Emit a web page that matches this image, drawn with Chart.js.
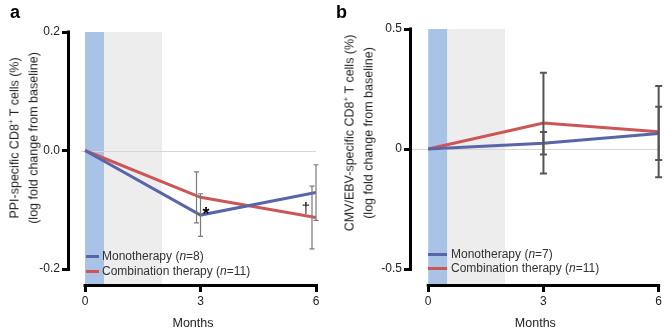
<!DOCTYPE html>
<html>
<head>
<meta charset="utf-8">
<script src="https://cdn.jsdelivr.net/npm/chart.js@4.4.0/dist/chart.umd.min.js"></script>
<style>
    body { margin: 0; background: #fff; }
    #wrap { position: relative; width: 664px; height: 328px; font-family: "Liberation Sans", Arial, sans-serif; color: #222; }
    canvas { position: absolute; top: 0; }
    .lbl { position: absolute; font-weight: bold; font-size: 18px; line-height: 18px; color: #000; }
    .ytitle { position: absolute; width: 260px; font-size: 12.5px; line-height: 18.5px; text-align: center; white-space: nowrap;
              transform: translate(-50%, -50%) rotate(-90deg); }
    .ytitle sup { font-size: 8px; line-height: 0; vertical-align: 5px; }
    .leg { position: absolute; font-size: 12px; line-height: 12px; white-space: nowrap; color: #333; }
    .sw { position: absolute; height: 3px; }
    .mark { position: absolute; line-height: 16px; color: #000; transform: translate(-50%, -50%); }
</style>
</head>
<body>
<div id="wrap">
    <canvas id="chartA" width="332" height="328" style="left:0"></canvas>
    <canvas id="chartB" width="330" height="328" style="left:334px"></canvas>

    <div class="lbl" style="left:10px; top:3px">a</div>
    <div class="lbl" style="left:336px; top:3px">b</div>

    <div class="ytitle" style="left:24px; top:138px">PPI-specific CD8<sup>+</sup> T cells (%)<br>(log fold change from baseline)</div>
    <div class="ytitle" style="left:359px; top:133px">CMV/EBV-specific CD8<sup>+</sup> T cells (%)<br>(log fold change from baseline)</div>

    <div class="sw" style="left:86px; top:255px; width:13px; background:#5866a8"></div>
    <div class="leg" style="left:102px; top:250px">Monotherapy (<i>n</i>=8)</div>
    <div class="sw" style="left:86px; top:270px; width:13px; background:#cc5656"></div>
    <div class="leg" style="left:102px; top:265px">Combination therapy (<i>n</i>=11)</div>

    <div class="sw" style="left:428px; top:253px; width:19px; background:#5866a8"></div>
    <div class="leg" style="left:451px; top:248px">Monotherapy (<i>n</i>=7)</div>
    <div class="sw" style="left:428px; top:267px; width:19px; background:#cc5656"></div>
    <div class="leg" style="left:451px; top:262px">Combination therapy (<i>n</i>=11)</div>

    <div class="mark" style="left:206px; top:214px; font-size:18px; font-weight:bold">*</div>
    <div class="mark" style="left:306px; top:208px; font-size:15px">†</div>
</div>

<script>
// Data
const months = [0, 3, 6];
const xTicks = [0, 3, 6];

// Panel a: PPI-specific CD8+ T cells
const ppiMono = [0, -0.109, -0.071];
const ppiMonoErr = [0, 0.036, 0.047];
const ppiCombo = [0, -0.079, -0.113];
const ppiComboErr = [0, 0.043, 0.053];
const ppiTicks = [-0.2, 0, 0.2];
const ppiTickLabels = ['-0.2', '0.0', '0.2'];

// Panel b: CMV/EBV-specific CD8+ T cells
const viralMono = [0, 0.024, 0.065];
const viralMonoErr = [0, 0.047, 0.111];
const viralCombo = [0, 0.108, 0.072];
const viralComboErr = [0, 0.21, 0.19];
const viralTicks = [-0.5, 0, 0.5];
const viralTickLabels = ['-0.5', '0', '0.5'];

// Shaded periods (months)
const bandBlue = [0, 0.5];
const bandGrey = [0.5, 2];

const BLUE = '#5866a8';
const RED = '#cc5656';

Chart.defaults.font.family = '"Liberation Sans", Arial, sans-serif';
Chart.defaults.color = '#222';

// Shading, zero line, error bars and Prism-style offset axes
const decor = {
    id: 'decor',
    beforeDatasetsDraw(chart, args, opts) {
        const { ctx, chartArea, scales: { x, y } } = chart;
        const top = y.getPixelForValue(opts.axisTop);
        ctx.save();
        ctx.fillStyle = '#a9c3e7';
        ctx.fillRect(x.getPixelForValue(bandBlue[0]), top,
            x.getPixelForValue(bandBlue[1]) - x.getPixelForValue(bandBlue[0]), chartArea.bottom - top);
        ctx.fillStyle = '#ededed';
        ctx.fillRect(x.getPixelForValue(bandGrey[0]), top,
            x.getPixelForValue(bandGrey[1]) - x.getPixelForValue(bandGrey[0]), chartArea.bottom - top);

        // zero line
        const y0 = Math.round(y.getPixelForValue(0)) + 0.5;
        ctx.strokeStyle = '#d6d6d6';
        ctx.lineWidth = 1;
        ctx.beginPath();
        ctx.moveTo(x.getPixelForValue(opts.zeroFrom), y0);
        ctx.lineTo(chartArea.right, y0);
        ctx.stroke();
        ctx.restore();
    },
    afterDatasetsDraw(chart, args, opts) {
        const { ctx, scales: { x, y } } = chart;
        ctx.save();
        ctx.strokeStyle = opts.errColor;
        ctx.lineWidth = opts.errWidth;
        chart.data.datasets.forEach(ds => {
            ds.data.forEach((p, j) => {
                const e = ds.errors[j];
                if (!e) return;
                const px = x.getPixelForValue(p.x) + ds.errShift;
                const t = y.getPixelForValue(p.y + e);
                const b = y.getPixelForValue(p.y - e);
                ctx.beginPath();
                ctx.moveTo(px, t);
                ctx.lineTo(px, b);
                ctx.moveTo(px - opts.cap, t);
                ctx.lineTo(px + opts.cap, t);
                ctx.moveTo(px - opts.cap, b);
                ctx.lineTo(px + opts.cap, b);
                ctx.stroke();
            });
        });
        ctx.restore();
    },
    afterDraw(chart, args, opts) {
        const { ctx, chartArea, scales: { x, y } } = chart;
        ctx.save();
        ctx.strokeStyle = '#000';
        ctx.lineWidth = 3;
        ctx.beginPath();
        const ax = chartArea.left - 1.5;
        ctx.moveTo(ax, y.getPixelForValue(opts.axisTop) - 1.5);
        ctx.lineTo(ax, y.getPixelForValue(opts.axisBottom) + 1.5);
        const ay = chartArea.bottom + 1.5;
        ctx.moveTo(x.getPixelForValue(xTicks[0]) - 1.5, ay);
        ctx.lineTo(x.getPixelForValue(xTicks[xTicks.length - 1]) + 1.5, ay);
        ctx.stroke();
        ctx.restore();
    }
};

function series(values) {
    return months.map((m, i) => ({ x: m, y: values[i] }));
}

function makeChart(id, o) {
    const tickGrid = {
        display: true,
        drawOnChartArea: false,
        drawTicks: true,
        tickLength: 8,
        tickWidth: 3,
        tickColor: '#000'
    };
    return new Chart(document.getElementById(id), {
        type: 'line',
        data: {
            datasets: [
                {
                    label: 'Monotherapy',
                    data: series(o.mono),
                    errors: o.monoErr,
                    errShift: 0,
                    borderColor: BLUE,
                    borderWidth: 3,
                    pointRadius: 0,
                    tension: 0
                },
                {
                    label: 'Combination therapy',
                    data: series(o.combo),
                    errors: o.comboErr,
                    errShift: o.comboShift,
                    borderColor: RED,
                    borderWidth: 3,
                    pointRadius: 0,
                    tension: 0
                }
            ]
        },
        options: {
            responsive: false,
            animation: false,
            layout: { padding: { top: o.padTop, right: o.padRight, left: 0, bottom: 0 } },
            plugins: {
                legend: { display: false },
                tooltip: { enabled: false },
                decor: {
                    axisTop: o.ticks[o.ticks.length - 1],
                    axisBottom: o.ticks[0],
                    zeroFrom: o.zeroFrom,
                    errColor: o.errColor,
                    errWidth: o.errWidth,
                    cap: o.cap
                }
            },
            scales: {
                x: {
                    type: 'linear',
                    min: o.xMin,
                    max: 6,
                    afterBuildTicks: s => { s.ticks = xTicks.map(v => ({ value: v })); },
                    afterFit: s => { s.height = 44; },
                    grid: tickGrid,
                    border: { display: false },
                    ticks: { font: { size: 12 }, color: '#222', padding: 2, maxRotation: 0, autoSkip: false },
                    title: {
                        display: true,
                        text: 'Months',
                        font: { size: 12.5, lineHeight: 1 },
                        padding: { top: 0, bottom: -1.5 },
                        color: '#222'
                    }
                },
                y: {
                    type: 'linear',
                    min: o.yMin,
                    max: o.ticks[o.ticks.length - 1],
                    afterBuildTicks: s => { s.ticks = o.ticks.map(v => ({ value: v })); },
                    afterFit: s => { s.width = o.yWidth; },
                    grid: tickGrid,
                    border: { display: false },
                    ticks: {
                        font: { size: 12 },
                        color: '#222',
                        padding: 2,
                        autoSkip: false,
                        callback: v => o.tickLabels[o.ticks.indexOf(v)]
                    }
                }
            }
        },
        plugins: [decor]
    });
}

makeChart('chartA', {
    mono: ppiMono, monoErr: ppiMonoErr,
    combo: ppiCombo, comboErr: ppiComboErr, comboShift: -4,
    ticks: ppiTicks, tickLabels: ppiTickLabels,
    xMin: -0.39, yMin: -0.2253,
    padTop: 32, padRight: 16, yWidth: 70,
    zeroFrom: -0.1,
    errColor: '#7a7a7a', errWidth: 1.2, cap: 2.5
});

makeChart('chartB', {
    mono: viralMono, monoErr: viralMonoErr,
    combo: viralCombo, comboErr: viralComboErr, comboShift: 0,
    ticks: viralTicks, tickLabels: viralTickLabels,
    xMin: -0.422, yMin: -0.5625,
    padTop: 29, padRight: 4, yWidth: 78,
    zeroFrom: -0.422,
    errColor: '#555', errWidth: 2, cap: 3.5
});
</script>
</body>
</html>
